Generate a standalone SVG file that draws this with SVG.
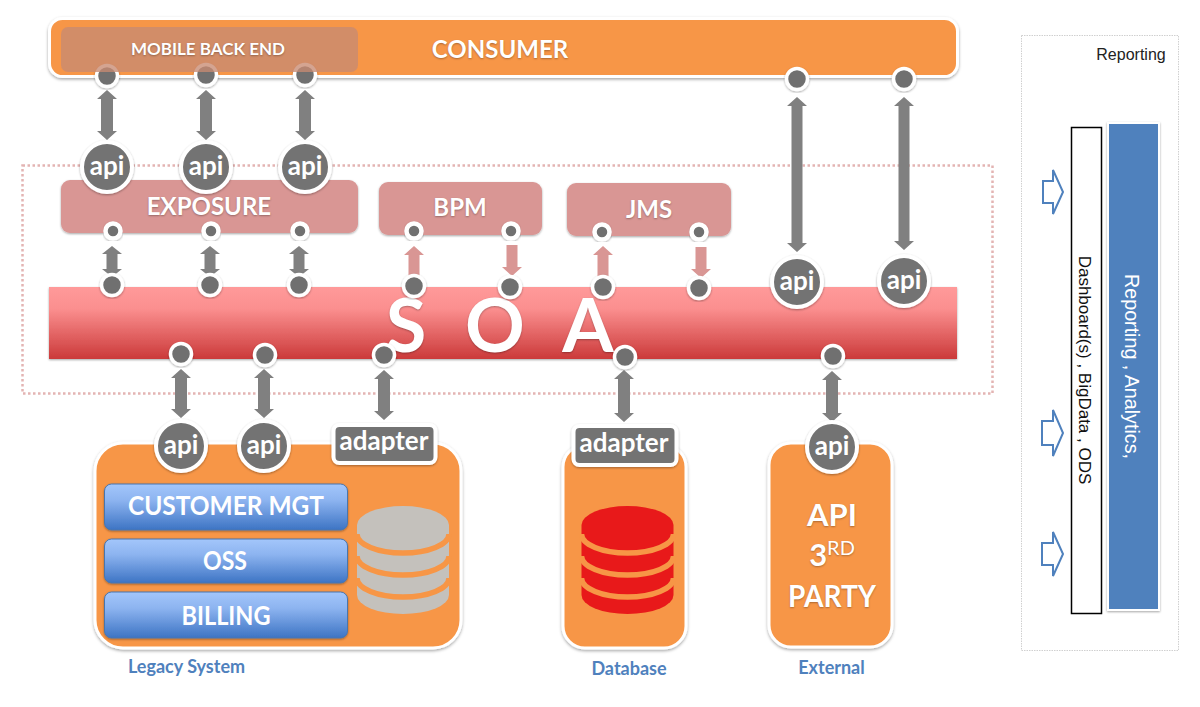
<svg xmlns="http://www.w3.org/2000/svg" width="1200" height="707" viewBox="0 0 1200 707">
<style>
text{font-family:Lato,"Open Sans",sans-serif;font-weight:700;text-anchor:middle}
.w{fill:#fff;text-shadow:0 1px 2px rgba(0,0,0,.3)}
.org{fill:#f79646;stroke:#fff;stroke-width:3;filter:url(#sh)}
.pink{fill:#d99694;filter:url(#shs)}
.port{fill:#6f6f6f;stroke:#fff;stroke-width:3.500;filter:url(#shs)}
.sport{fill:#6f6f6f;stroke:#fff;stroke-width:4.500;filter:url(#shs)}
.api{fill:#737373;stroke:#fff;stroke-width:4;filter:url(#shs)}
.adp{fill:#737373;stroke:#fff;stroke-width:4;filter:url(#shs)}
.apit{font-size:26px;fill:#fff}
.blue{fill:url(#gb);stroke:#4a76ad;stroke-width:1;filter:url(#shs)}
.bt{font-size:26px;fill:#fff}
.lab{font-size:18px;fill:#4f81bd}
.ar{font-family:"Liberation Sans",Arial,sans-serif;font-weight:400}
.g{fill:#808080}
.p{fill:#d99694}
.out{fill:#fff;stroke:#4f81bd;stroke-width:2}
.band{fill:none;stroke:#f79646;stroke-width:5.500}
</style>
<defs>
<linearGradient id="gs" x1="0" y1="0" x2="0" y2="1"><stop offset="0" stop-color="#ff9a9a"/><stop offset=".3" stop-color="#fb8f8f"/><stop offset="1" stop-color="#cb3a3a"/></linearGradient>
<linearGradient id="gb" x1="0" y1="0" x2="0" y2="1"><stop offset="0" stop-color="#a3c6fb"/><stop offset=".35" stop-color="#8db4f0"/><stop offset="1" stop-color="#3d74c4"/></linearGradient>
<filter id="sh" x="-5%" y="-10%" width="110%" height="125%"><feDropShadow dx="0" dy="1.500" stdDeviation="1.500" flood-color="#000" flood-opacity=".35"/></filter>
<filter id="shs" x="-15%" y="-15%" width="130%" height="130%"><feDropShadow dx="0" dy="1" stdDeviation="1.200" flood-color="#000" flood-opacity=".35"/></filter>
<path id="cyl" d="M-46 -35A46 19 0 0 1 46 -35V35A46 19 0 0 1 -46 35Z"/>
<g id="bands" class="band"><path d="M-46 -26A46 19 0 0 0 46 -26"/><path d="M-46 -4A46 19 0 0 0 46 -4"/><path d="M-46 18A46 19 0 0 0 46 18"/></g>
</defs>

<g id="reporting-panel">
<rect x="1021.500" y="35.500" width="157" height="615" fill="#fff" stroke="#d0d0d0" stroke-dasharray="1.500 1"/>
<text class="ar" x="1131" y="60" font-size="16" fill="#222">Reporting</text>
</g>
<g id="dashboard">
<rect x="1071.500" y="127.500" width="30" height="486" fill="#fff" stroke="#000" stroke-width="1.500"/>
<text class="ar" transform="translate(1078.500 370) rotate(90)" font-size="17" fill="#111">Dashboard(s) , BigData , ODS</text>
</g>
<g id="reporting-analytics">
<rect x="1108" y="123" width="51" height="487" fill="#4f81bd" stroke="#fff" stroke-width="2" filter="url(#shs)"/>
<text class="ar" transform="translate(1125 366.500) rotate(90)" font-size="19.700" fill="#fff">Reporting , Analytics,</text>
</g>
<g id="feed-arrows">
<path class="out" d="M1043 181H1053V170L1063 192L1053 214V203H1043Z"/>
<path class="out" d="M1042 421H1053V410L1063 433L1053 456V445H1042Z"/>
<path class="out" d="M1042 543H1053V532L1063 554L1053 576V565H1042Z"/>
</g>

<g id="soa-zone"><rect x="22.500" y="165.500" width="970" height="228" fill="none" stroke="#e3b4b3" stroke-width="2.500" stroke-dasharray="2.500 2.500"/></g>

<g id="consumer">
<rect class="org" x="49.500" y="18.500" width="908" height="58" rx="13"/>
<text class="w" x="500" y="58" font-size="24">CONSUMER</text>
</g>

<g id="soa">
<rect x="49" y="287" width="908" height="72" fill="url(#gs)" filter="url(#shs)"/>
<g class="w" font-size="74"><text x="406" y="352">S</text><text x="495" y="352">O</text><text x="588" y="352">A</text></g>
</g>

<g id="exposure"><rect class="pink" x="61" y="180" width="297" height="53" rx="9"/><text class="w" x="209" y="215" font-size="24">EXPOSURE</text></g>
<g id="bpm"><rect class="pink" x="379" y="182" width="163" height="53" rx="9"/><text class="w" x="460" y="216" font-size="24">BPM</text></g>
<g id="jms"><rect class="pink" x="567" y="183" width="164" height="53" rx="9"/><text class="w" x="649" y="218" font-size="24">JMS</text></g>

<g id="connectors">
<path class="g" d="M107 90l10 9h-4V131h4l-10 9l-10-9h4V99h-4z"/>
<path class="g" d="M206 90l10 9h-4V131h4l-10 9l-10-9h4V99h-4z"/>
<path class="g" d="M305 90l10 9h-4V131h4l-10 9l-10-9h4V99h-4z"/>
<path class="g" d="M797 97l10 9h-4.500V243h4.500l-10 9l-10-9h4.500V106h-4.500z"/>
<path class="g" d="M904 97l10 9h-4.500V241h4.500l-10 9l-10-9h4.500V106h-4.500z"/>
<path class="g" d="M112 246l10 8h-4.500V269h4.500l-10 8l-10-8h4.500V254h-4.500z"/>
<path class="g" d="M210 246l10 8h-4.500V269h4.500l-10 8l-10-8h4.500V254h-4.500z"/>
<path class="g" d="M299 246l10 8h-4.500V269h4.500l-10 8l-10-8h4.500V254h-4.500z"/>
<path class="p" d="M414 246l10 9h-4.500V277h-11V255h-4.500z"/>
<path class="p" d="M512 276l10-9h-4.500V245h-11V267h-4.500z"/>
<path class="p" d="M603 246l10 9h-4.500V277h-11V255h-4.500z"/>
<path class="p" d="M701 278l10-9h-4.500V247h-11V269h-4.500z"/>
<path class="g" d="M181 369l10 9h-4V409h4l-10 9l-10-9h4V378h-4z"/>
<path class="g" d="M264 369l10 9h-4V409h4l-10 9l-10-9h4V378h-4z"/>
<path class="g" d="M384 370l10 9h-4V411h4l-10 9l-10-9h4V379h-4z"/>
<path class="g" d="M624 370l10 9h-4V413h4l-10 9l-10-9h4V379h-4z"/>
<path class="g" d="M832 371l10 9h-4V413h4l-10 9l-10-9h4V380h-4z"/>
</g>

<g id="ports-consumer">
<circle class="port" cx="107" cy="76" r="10.500"/><circle class="port" cx="206" cy="75" r="10.500"/><circle class="port" cx="305" cy="75" r="10.500"/>
<circle class="port" cx="797" cy="79" r="10.500"/><circle class="port" cx="904" cy="79" r="10.500"/>
</g>
<g id="mobile-back-end">
<rect x="61" y="27" width="297" height="45" rx="7" fill="#c88a72" fill-opacity=".78"/>
<text class="w" x="208" y="55" font-size="17">MOBILE BACK END</text>
</g>

<g id="ports-mid">
<circle class="sport" cx="113" cy="231" r="7.500"/><circle class="sport" cx="211" cy="231" r="7.500"/><circle class="sport" cx="300" cy="231" r="7.500"/>
<circle class="sport" cx="414" cy="231" r="7.500"/><circle class="sport" cx="511" cy="231" r="7.500"/>
<circle class="sport" cx="602" cy="232" r="7.500"/><circle class="sport" cx="699" cy="232" r="7.500"/>
</g>
<g id="ports-soa">
<circle class="port" cx="112" cy="285" r="10.500"/><circle class="port" cx="210" cy="285" r="10.500"/><circle class="port" cx="299" cy="285" r="10.500"/>
<circle class="port" cx="414" cy="286" r="10.500"/><circle class="port" cx="510" cy="287" r="10.500"/>
<circle class="port" cx="603" cy="287" r="10.500"/><circle class="port" cx="699" cy="288" r="10.500"/>
<circle class="port" cx="181" cy="354" r="10.500"/><circle class="port" cx="265" cy="355" r="10.500"/><circle class="port" cx="384" cy="355" r="10.500"/>
<circle class="port" cx="625" cy="357" r="10.500"/><circle class="port" cx="833" cy="356" r="10.500"/>
</g>

<g id="api-1"><circle class="api" cx="107" cy="167" r="25"/><text class="apit" x="107" y="175">api</text></g>
<g id="api-2"><circle class="api" cx="206" cy="167" r="25"/><text class="apit" x="206" y="175">api</text></g>
<g id="api-3"><circle class="api" cx="305" cy="167" r="25"/><text class="apit" x="305" y="175">api</text></g>
<g id="api-4"><circle class="api" cx="797" cy="282" r="25"/><text class="apit" x="797" y="290">api</text></g>
<g id="api-5"><circle class="api" cx="904" cy="281" r="25"/><text class="apit" x="904" y="289">api</text></g>

<g id="legacy-system">
<rect class="org" x="95" y="443" width="366" height="205" rx="28"/>
<g id="customer-mgt"><rect class="blue" x="104.500" y="484" width="243" height="46" rx="7"/><text class="bt" x="226" y="515" textLength="196" lengthAdjust="spacingAndGlyphs">CUSTOMER MGT</text></g>
<g id="oss"><rect class="blue" x="104.500" y="539" width="243" height="44" rx="7"/><text class="bt" x="225" y="570" textLength="44" lengthAdjust="spacingAndGlyphs">OSS</text></g>
<g id="billing"><rect class="blue" x="104.500" y="592" width="243" height="46" rx="7"/><text class="bt" x="226" y="625" textLength="89" lengthAdjust="spacingAndGlyphs">BILLING</text></g>
<g transform="translate(403 560)"><use href="#cyl" fill="#c4c1bc"/><use href="#bands"/></g>
<text class="lab" x="186.500" y="673">Legacy System</text>
</g>
<g id="api-6"><circle class="api" cx="181" cy="446" r="25"/><text class="apit" x="181" y="454">api</text></g>
<g id="api-7"><circle class="api" cx="264" cy="446" r="25"/><text class="apit" x="264" y="454">api</text></g>
<g id="adapter-1"><rect class="adp" x="333.500" y="425" width="102" height="38" rx="6"/><text class="apit" x="384" y="450">adapter</text></g>

<g id="database">
<rect class="org" x="563" y="445" width="123" height="203" rx="22"/>
<g transform="translate(627.500 560)"><use href="#cyl" fill="#e8191a"/><use href="#bands"/></g>
<text class="lab" x="629" y="675">Database</text>
</g>
<g id="adapter-2"><rect class="adp" x="573.500" y="426" width="103" height="39" rx="6"/><text class="apit" x="624" y="452">adapter</text></g>

<g id="external">
<rect class="org" x="769" y="443" width="123" height="204" rx="22"/>
<text class="w" x="832" y="526" font-size="31">API</text>
<text class="w" x="832" y="566" font-size="31">3<tspan font-size="20" dy="-11" font-weight="400">RD</tspan></text>
<text class="w" x="832" y="607" font-size="31" textLength="88" lengthAdjust="spacingAndGlyphs">PARTY</text>
<text class="lab" x="831.500" y="674">External</text>
</g>
<g id="api-8"><circle class="api" cx="832" cy="447" r="25"/><text class="apit" x="832" y="455">api</text></g>
</svg>
